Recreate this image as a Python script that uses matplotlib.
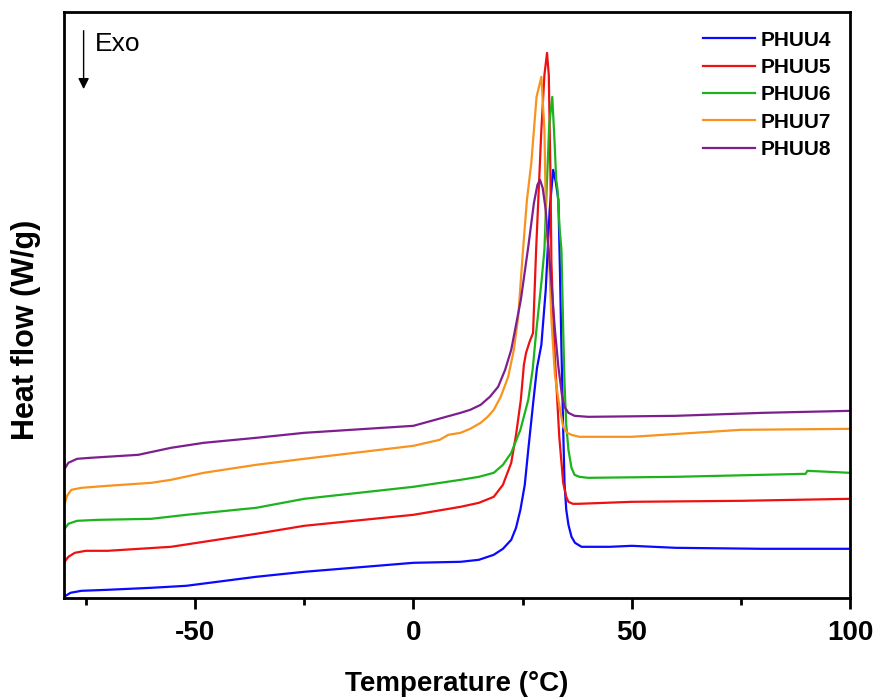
import matplotlib
matplotlib.use("Agg")
import matplotlib.pyplot as plt
from matplotlib.ticker import MultipleLocator

plt.rcParams['font.family'] = ['Liberation Sans', 'DejaVu Sans']
plt.rcParams['axes.unicode_minus'] = False

# DSC curves, values (arbitrary heat-flow units)
t4 = [-80, -78.5, -76, -70, -60, -52, -36, -25, 0, 10.8, 15, 18.4, 20.5, 22.4, 23.5, 24.5, 25.5, 26.3, 27.5, 28.3, 29.3, 30.3, 31.2, 32.0, 32.6, 33.2, 33.6, 33.9, 34.3, 34.6, 35.0, 35.5, 36.2, 37.0, 38.5, 45, 50, 60, 80, 100]
hf4 = [3, 7, 9, 10, 12, 14, 23, 28, 37, 38, 40, 45, 51, 60, 72, 90, 115, 150, 200, 232, 255, 310, 390, 430, 418, 400, 320, 250, 170, 117, 90, 75, 63, 57, 53, 53, 54, 52, 51, 51]

t5 = [-80, -79, -77.5, -75, -70, -55.5, -48, -36, -25, 0, 10.8, 15, 18.4, 20.5, 22.4, 23.5, 24.6, 25.3, 25.8, 26.6, 27.4, 28.1, 29.3, 30.0, 30.6, 31.0, 31.4, 31.6, 32.3, 33.4, 34.3, 35.0, 35.5, 36.5, 37.8, 50, 75, 100]
hf5 = [37, 43, 47, 49, 49, 53, 58, 66, 74, 85, 93, 97, 103, 115, 137, 165, 200, 235, 247, 258, 267, 350, 470, 525, 547, 525, 420, 337, 250, 163, 117, 103, 98, 96, 96, 98, 99, 101]

t6 = [-80, -79, -77, -72, -60, -52, -36, -25, 0, 10.8, 15, 18.4, 20.5, 22.4, 24.5, 26.3, 27.3, 28.1, 29.3, 30.0, 30.6, 31.1, 31.8, 32.3, 32.7, 33.0, 33.5, 33.9, 34.3, 34.6, 35.0, 35.5, 36.2, 36.9, 38, 40, 60, 89.8, 90.2, 100]
hf6 = [70, 76, 79, 80, 81, 85, 92, 101, 113, 120, 123, 127, 135, 147, 170, 200, 230, 267, 317, 350, 420, 475, 503, 460, 420, 410, 370, 350, 270, 217, 175, 150, 132, 125, 123, 122, 123, 126, 129, 127]

t7 = [-80, -79.3, -78.3, -76, -70, -60, -55.5, -48, -36, -25, 0, 6, 8, 10.8, 13, 15.4, 17, 18.4, 20, 21.7, 23, 24, 25.1, 26, 27, 28.2, 29.3, 30.0, 30.4, 31, 31.6, 32.4, 33.2, 34.3, 35.2, 36.2, 38, 50, 75, 100]
hf7 = [93, 104, 110, 112, 114, 117, 120, 127, 135, 141, 154, 160, 165, 167, 171, 177, 183, 190, 203, 223, 250, 283, 350, 400, 437, 503, 523, 470, 370, 350, 280, 225, 200, 173, 167, 165, 163, 163, 170, 171]

t8 = [-80, -79, -77, -74, -63, -55.5, -48, -36, -25, 0, 10.8, 13, 15.4, 17.5, 19.4, 21, 22.4, 23.5, 24.6, 26.3, 27.6, 28.4, 29.0, 29.6, 30.3, 30.9, 31.6, 32.4, 33.2, 34.0, 34.6, 35.5, 36.9, 40, 60, 80, 100]
hf8 = [130, 137, 141, 142, 145, 152, 157, 162, 167, 174, 187, 190, 195, 203, 213, 230, 250, 275, 300, 353, 397, 415, 420, 412, 390, 353, 317, 270, 233, 205, 193, 187, 184, 183, 184, 187, 189]

series = [
    (t4, hf4, "PHUU4", "#0a0aff"),
    (t5, hf5, "PHUU5", "#ee1111"),
    (t6, hf6, "PHUU6", "#1db31d"),
    (t7, hf7, "PHUU7", "#f7931e"),
    (t8, hf8, "PHUU8", "#7d1f8e"),
]

fig = plt.figure(figsize=(8.81, 7.0), dpi=100)
ax = fig.add_axes([0.0726, 0.146, 0.8924, 0.837])

for t, hf, name, col in series:
    ax.plot(t, hf, color=col, lw=1.6, label=name)

ax.set_xlim(-80, 100)
ax.set_ylim(2, 588)
ax.xaxis.set_major_locator(MultipleLocator(50))
ax.xaxis.set_minor_locator(MultipleLocator(25))
ax.set_yticks([])
ax.tick_params(axis="x", which="major", direction="out", length=8, width=2, labelsize=20, pad=8)
ax.tick_params(axis="x", which="minor", direction="out", length=5, width=2)
for lab in ax.get_xticklabels():
    lab.set_fontweight("bold")
for sp in ax.spines.values():
    sp.set_linewidth(2)

ax.set_xlabel("Temperature (°C)", fontsize=20, fontweight="bold")
ax.xaxis.set_label_coords(0.5, -0.125)
ax.set_ylabel("Heat flow (W/g)", fontsize=22, fontweight="bold")
ax.yaxis.set_label_coords(-0.029, 0.457)

# exotherm direction marker
ax.annotate("", xy=(-75.5, 508), xytext=(-75.5, 572),
            arrowprops=dict(arrowstyle="-|>", color="black", lw=1, mutation_scale=16))
ax.text(-73, 556, "Exo", fontsize=19, va="center", ha="left")

leg = ax.legend(loc="upper right", frameon=False, fontsize=15, handlelength=2.5,
                labelspacing=0.4, borderaxespad=0.5, handletextpad=0.3)
for txt in leg.get_texts():
    txt.set_fontweight("bold")

fig.savefig("out.png", dpi=100)
